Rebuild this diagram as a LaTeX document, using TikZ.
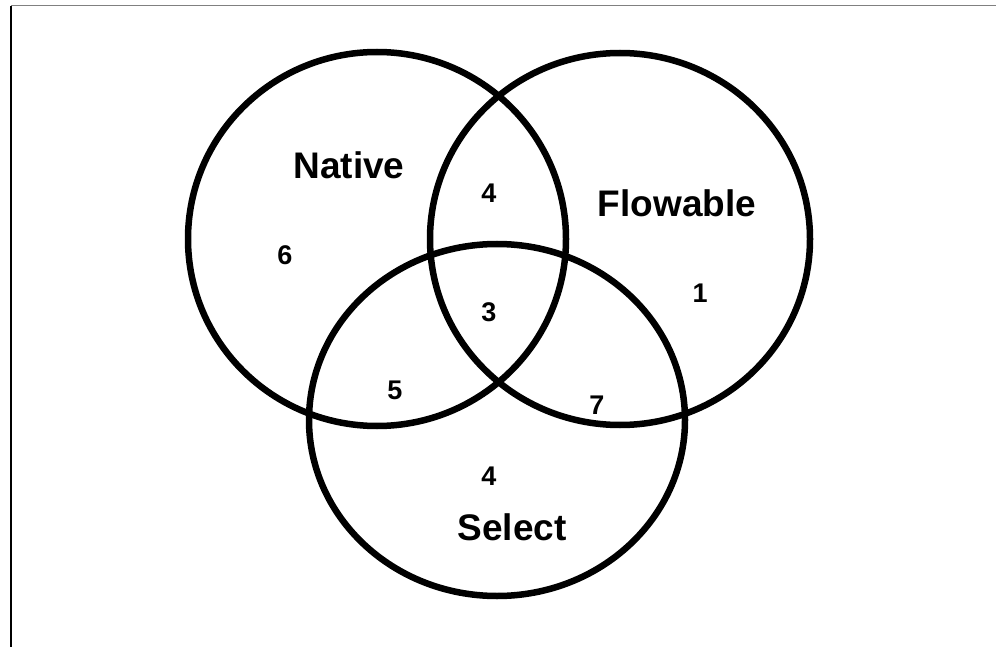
\documentclass[tikz,border=0pt]{standalone}
\usepackage{fontspec}
\setmainfont{Liberation Sans}
\begin{document}
\begin{tikzpicture}[x=1pt,y=-1pt,
  ring/.style={draw=black,line width=6.5pt},
  setlabel/.style={font=\bfseries\fontsize{37}{40}\selectfont},
  count/.style={font=\bfseries\fontsize{27}{29}\selectfont}]
\useasboundingbox (0,0) rectangle (996,647);
\fill[white] (0,0) rectangle (996,647);
\draw[line width=2.5pt] (11,6) -- (11,647);
\draw[line width=1pt,gray] (11,6) -- (996,6);
\draw[ring] (377,239) ellipse [x radius=189, y radius=187];
\draw[ring] (620,239) ellipse [x radius=190, y radius=186];
\draw[ring] (497,420) ellipse [x radius=188, y radius=176];
\node[setlabel] (native) at (349,165) {Native};
\node[setlabel] (flowable) at (677,203) {Flowable};
\node[setlabel] (select) at (512,527) {Select};
\node[count] (nf) at (489,193) {4};
\node[count] (n) at (285,255) {6};
\node[count] (nfs) at (489,312) {3};
\node[count] (f) at (700,293) {1};
\node[count] (ns) at (395,390) {5};
\node[count] (fs) at (597,405) {7};
\node[count] (s) at (489,476) {4};
\end{tikzpicture}
\end{document}
